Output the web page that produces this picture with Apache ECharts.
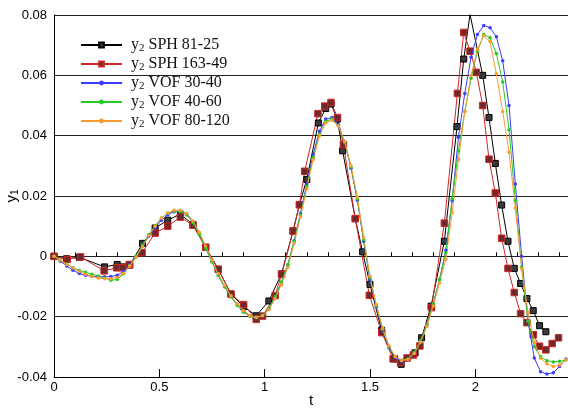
<!DOCTYPE html>
<html>
<head>
<meta charset="utf-8">
<script src="https://cdn.jsdelivr.net/npm/echarts@6/dist/echarts.min.js"></script>
<style>
  html, body { margin: 0; padding: 0; background: #fff; }
  #chart { width: 568px; height: 408px; }
</style>
</head>
<body>
<div id="chart"></div>
<script>
// Axis tick values
var xMajorTicks = [0, 0.5, 1, 1.5, 2];
var xMinorTicks = [0.1, 0.2, 0.3, 0.4, 0.6, 0.7, 0.8, 0.9, 1.1, 1.2, 1.3, 1.4,
                   1.6, 1.7, 1.8, 1.9, 2.1, 2.2, 2.3, 2.4];

// SPH 81-25
var sph81T = [0, 0.06, 0.12, 0.24, 0.30, 0.33, 0.36, 0.42, 0.48, 0.54, 0.60, 0.66, 0.72, 0.78,
  0.84, 0.90, 0.96, 1.02, 1.08, 1.135, 1.165, 1.20, 1.255, 1.29, 1.315, 1.345, 1.37, 1.43,
  1.465, 1.50, 1.555, 1.617, 1.648, 1.714, 1.745, 1.79, 1.853, 1.913, 1.945, 1.975, 2.035,
  2.065, 2.095, 2.125, 2.155, 2.185, 2.215, 2.245, 2.275, 2.305, 2.335];
var sph81Y = [0, -0.0008, -0.0003, -0.0035, -0.0027, -0.0035, -0.0029, 0.0043, 0.0094, 0.0120,
  0.0140, 0.0105, 0.0030, -0.0043, -0.0125, -0.0167, -0.0197, -0.0148, -0.0058, 0.0084, 0.0171,
  0.0255, 0.0442, 0.0490, 0.0505, 0.0455, 0.0350, 0.0125, 0.0015, -0.0093, -0.0245, -0.0340,
  -0.0358, -0.0320, -0.0270, -0.0165, 0.0050, 0.0430, 0.0654, 0.0802, 0.0600, 0.0460, 0.0308,
  0.0170, 0.0050, -0.0040, -0.0090, -0.0140, -0.0180, -0.0230, -0.0250];

// SPH 163-49
var sph163T = [0, 0.063, 0.126, 0.238, 0.297, 0.325, 0.357, 0.418, 0.48, 0.54, 0.60, 0.66, 0.72,
  0.78, 0.84, 0.90, 0.96, 0.99, 1.05, 1.08, 1.135, 1.165, 1.19, 1.253, 1.285, 1.315, 1.346,
  1.374, 1.43, 1.497, 1.556, 1.61, 1.645, 1.676, 1.706, 1.737, 1.792, 1.853, 1.915, 1.945,
  1.975, 2.005, 2.035, 2.065, 2.095, 2.125, 2.155, 2.185, 2.215, 2.245, 2.275, 2.305, 2.335,
  2.365, 2.395];
var sph163Y = [0, -0.0010, -0.0002, -0.0048, -0.0038, -0.0038, -0.0027, 0.0012, 0.0077, 0.0100,
  0.0130, 0.0103, 0.0030, -0.0043, -0.0125, -0.0160, -0.0209, -0.0198, -0.0130, -0.0060, 0.0084,
  0.0171, 0.0282, 0.0473, 0.0498, 0.0510, 0.0460, 0.0370, 0.0125, -0.0129, -0.0253, -0.0340,
  -0.0352, -0.0337, -0.0327, -0.0297, -0.0170, 0.0110, 0.0540, 0.0742, 0.0680, 0.0610, 0.0500,
  0.0322, 0.0210, 0.0060, -0.0040, -0.0120, -0.0190, -0.0220, -0.0260, -0.0298, -0.0310,
  -0.0289, -0.0270];

// VOF sample times (shared by the three VOF meshes)
var vofT = [0, 0.03, 0.06, 0.09, 0.12, 0.15, 0.18, 0.21, 0.24, 0.27, 0.30, 0.33, 0.36, 0.39,
  0.42, 0.45, 0.48, 0.51, 0.54, 0.57, 0.60, 0.63, 0.66, 0.69, 0.72, 0.75, 0.78, 0.81, 0.84,
  0.87, 0.90, 0.93, 0.96, 0.99, 1.02, 1.05, 1.08, 1.11, 1.14, 1.17, 1.20, 1.23, 1.26, 1.29,
  1.32, 1.35, 1.38, 1.41, 1.44, 1.47, 1.50, 1.53, 1.56, 1.59, 1.62, 1.65, 1.68, 1.71, 1.74,
  1.77, 1.80, 1.83, 1.86, 1.89, 1.92, 1.95, 1.98, 2.01, 2.04, 2.07, 2.10, 2.13, 2.16, 2.19,
  2.22, 2.25, 2.28, 2.31, 2.34, 2.37, 2.40, 2.43];

// VOF 30-40
var vof30Y = [0, -0.0016, -0.0032, -0.0046, -0.0057, -0.0063, -0.0066, -0.0068, -0.0068, -0.0067,
  -0.0063, -0.0050, -0.0028, 0.0000, 0.0033, 0.0066, 0.0095, 0.0120, 0.0138, 0.0148, 0.0149,
  0.0139, 0.0114, 0.0076, 0.0030, -0.0016, -0.0062, -0.0100, -0.0133, -0.0160, -0.0182, -0.0197,
  -0.0203, -0.0196, -0.0174, -0.0135, -0.0088, -0.0030, 0.0052, 0.0142, 0.0240, 0.0338, 0.0415,
  0.0455, 0.0460, 0.0436, 0.0378, 0.0292, 0.0186, 0.0050, -0.0078, -0.0168, -0.0245, -0.0303,
  -0.0336, -0.0348, -0.0342, -0.0320, -0.0282, -0.0228, -0.0158, -0.0078, 0.0020, 0.0185,
  0.0395, 0.0540, 0.0660, 0.0735, 0.0765, 0.0758, 0.0728, 0.0648, 0.0500, 0.0240, 0.0000,
  -0.0215, -0.0337, -0.0383, -0.0390, -0.0386, -0.0365, -0.0340];

// VOF 40-60
var vof40Y = [0, -0.0012, -0.0026, -0.0038, -0.0047, -0.0053, -0.0059, -0.0065, -0.0072, -0.0079,
  -0.0077, -0.0058, -0.0030, 0.0002, 0.0037, 0.0072, 0.0102, 0.0127, 0.0143, 0.0150, 0.0149,
  0.0137, 0.0111, 0.0073, 0.0027, -0.0019, -0.0064, -0.0102, -0.0135, -0.0163, -0.0185, -0.0199,
  -0.0204, -0.0195, -0.0172, -0.0133, -0.0085, -0.0027, 0.0050, 0.0138, 0.0232, 0.0328, 0.0405,
  0.0448, 0.0455, 0.0433, 0.0378, 0.0295, 0.0190, 0.0055, -0.0072, -0.0165, -0.0242, -0.0300,
  -0.0333, -0.0345, -0.0340, -0.0318, -0.0280, -0.0226, -0.0157, -0.0078, 0.0012, 0.0190,
  0.0350, 0.0480, 0.0590, 0.0680, 0.0735, 0.0725, 0.0672, 0.0578, 0.0420, 0.0185, -0.0035,
  -0.0215, -0.0300, -0.0333, -0.0346, -0.0350, -0.0348, -0.0344];

// VOF 80-120
var vof80Y = [0, -0.0013, -0.0027, -0.0039, -0.0050, -0.0059, -0.0066, -0.0072, -0.0074, -0.0074,
  -0.0070, -0.0056, -0.0032, -0.0002, 0.0032, 0.0068, 0.0100, 0.0126, 0.0144, 0.0153, 0.0153,
  0.0142, 0.0117, 0.0080, 0.0034, -0.0013, -0.0058, -0.0097, -0.0131, -0.0158, -0.0180, -0.0196,
  -0.0202, -0.0197, -0.0177, -0.0140, -0.0093, -0.0036, 0.0043, 0.0130, 0.0225, 0.0320, 0.0400,
  0.0443, 0.0451, 0.0432, 0.0380, 0.0300, 0.0196, 0.0062, -0.0066, -0.0160, -0.0238, -0.0297,
  -0.0332, -0.0345, -0.0342, -0.0322, -0.0285, -0.0232, -0.0165, -0.0088, -0.0010, 0.0145,
  0.0320, 0.0480, 0.0600, 0.0685, 0.0731, 0.0712, 0.0605, 0.0480, 0.0345, 0.0160, -0.0040,
  -0.0185, -0.0285, -0.0338, -0.0356, -0.0365, -0.0360, -0.0343];

function pairs(ts, ys) {
  return ts.map(function (t, i) { return [t, ys[i]]; });
}

var sansFont = '"Liberation Sans", Arial, sans-serif';
var serifFont = '"Liberation Serif", "Times New Roman", serif';

function sphSeries(name, ts, ys, lineColor, fillColor, size) {
  return {
    name: name, type: 'line', data: pairs(ts, ys),
    symbol: 'rect', symbolSize: size, showSymbol: true,
    lineStyle: { color: lineColor, width: 1 },
    itemStyle: { color: fillColor, borderColor: lineColor, borderWidth: 1 },
    emphasis: { disabled: true }, animation: false, z: 3
  };
}
function vofSeries(name, ys, color) {
  return {
    name: name, type: 'line', data: pairs(vofT, ys),
    symbol: 'circle', symbolSize: 3.5, showSymbol: true,
    lineStyle: { color: color, width: 1 },
    itemStyle: { color: color, borderWidth: 0 },
    emphasis: { disabled: true }, animation: false, z: 4
  };
}

var chart = echarts.init(document.getElementById('chart'), null, { renderer: 'canvas' });
chart.setOption({
  backgroundColor: '#fff',
  animation: false,
  grid: { left: 54, right: 0, top: 15, bottom: 31, containLabel: false, outerBoundsMode: 'none' },
  legend: {
    orient: 'vertical', left: 80, top: 37, padding: 0,
    itemWidth: 41, itemHeight: 6, itemGap: 2,
    data: ['SPH 81-25', 'SPH 163-49', 'VOF 30-40', 'VOF 40-60', 'VOF 80-120'],
    formatter: function (name) { return '{y|y}{s|2}{t| ' + name + '}'; },
    textStyle: {
      color: '#111', fontFamily: serifFont, fontSize: 16, lineHeight: 16,
      rich: {
        y: { fontFamily: serifFont, fontSize: 16, padding: [0, 0, 0, 4], color: '#111' },
        s: { fontFamily: serifFont, fontSize: 11, padding: [7, 0, 0, 0], color: '#111' },
        t: { fontFamily: serifFont, fontSize: 16, color: '#111' }
      }
    }
  },
  xAxis: [{
    type: 'value', min: 0, max: 2.44, position: 'bottom',
    name: 't', nameLocation: 'middle', nameGap: 16, nameMoveOverlap: false,
    nameTextStyle: { color: '#000', fontFamily: sansFont, fontSize: 15, verticalAlign: 'top' },
    axisLine: { show: true, onZero: false, lineStyle: { color: '#000', width: 1 } },
    axisTick: { show: true, inside: true, length: 8, customValues: xMajorTicks, lineStyle: { color: '#000', width: 1 } },
    axisLabel: { show: true, customValues: xMajorTicks, color: '#000', fontFamily: sansFont, fontSize: 13, margin: 4 },
    splitLine: { show: false }
  }, {
    type: 'value', min: 0, max: 2.44, position: 'bottom',
    axisLine: { show: false },
    axisTick: { show: true, inside: true, length: 4, customValues: xMinorTicks, lineStyle: { color: '#000', width: 1 } },
    axisLabel: { show: false },
    splitLine: { show: false }
  }],
  yAxis: {
    type: 'value', min: -0.04, max: 0.08, interval: 0.02,
    name: '{a|y}{b|1}', nameLocation: 'middle', nameGap: 34, nameRotate: 90, nameMoveOverlap: false,
    nameTextStyle: {
      color: '#000',
      rich: {
        a: { fontFamily: sansFont, fontSize: 15, color: '#000' },
        b: { fontFamily: sansFont, fontSize: 10, color: '#000', padding: [7, 0, 0, 0] }
      }
    },
    axisLine: { show: true, onZero: false, lineStyle: { color: '#000', width: 1 } },
    axisTick: { show: false },
    axisLabel: { color: '#000', fontFamily: sansFont, fontSize: 13, margin: 7 },
    splitLine: { show: true, lineStyle: { color: '#222', width: 1 } }
  },
  series: [
    sphSeries('SPH 81-25', sph81T, sph81Y, '#000000', '#3a3a3a', 6),
    sphSeries('SPH 163-49', sph163T, sph163Y, '#d42525', '#6e2a2a', 6.5),
    vofSeries('VOF 30-40', vof30Y, '#3c3cff'),
    vofSeries('VOF 40-60', vof40Y, '#22cc22'),
    vofSeries('VOF 80-120', vof80Y, '#ff9a30')
  ]
});
</script>
</body>
</html>
